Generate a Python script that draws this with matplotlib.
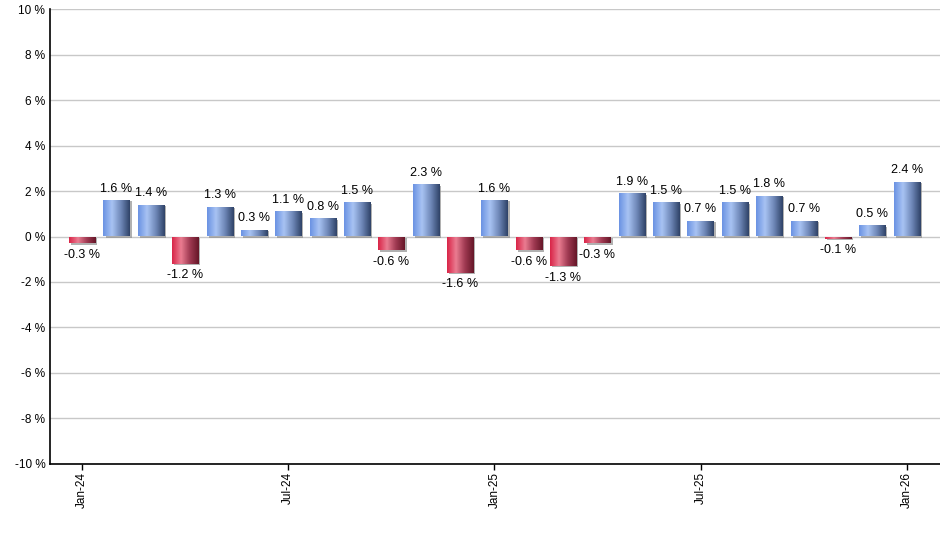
import matplotlib
matplotlib.use("Agg")
import matplotlib.pyplot as plt
import numpy as np
from matplotlib.colors import LinearSegmentedColormap
from matplotlib import patheffects

months = ["Jan-24", "Feb-24", "Mar-24", "Apr-24", "May-24", "Jun-24", "Jul-24",
          "Aug-24", "Sep-24", "Oct-24", "Nov-24", "Dec-24", "Jan-25", "Feb-25",
          "Mar-25", "Apr-25", "May-25", "Jun-25", "Jul-25", "Aug-25", "Sep-25",
          "Oct-25", "Nov-25", "Dec-25", "Jan-26"]
returns = [-0.3, 1.6, 1.4, -1.2, 1.3, 0.3, 1.1, 0.8, 1.5, -0.6, 2.3, -1.6, 1.6,
           -0.6, -1.3, -0.3, 1.9, 1.5, 0.7, 1.5, 1.8, 0.7, -0.1, 0.5, 2.4]
tick_months = ["Jan-24", "Jul-24", "Jan-25", "Jul-25", "Jan-26"]
y_ticks = [-10, -8, -6, -4, -2, 0, 2, 4, 6, 8, 10]

plt.rcParams["font.family"] = ["Liberation Sans", "DejaVu Sans"]

blue_cmap = LinearSegmentedColormap.from_list(
    "blue", ["#6b93e3", "#a8c3f3", "#6f88b8", "#2f4368"])
red_cmap = LinearSegmentedColormap.from_list(
    "red", ["#d92548", "#ea7c91", "#a03a52", "#661628"])

fig = plt.figure(figsize=(9.4, 5.5), dpi=100)
ax = fig.add_axes([0.0527, 0.1564, 0.9473, 0.8272])

x = np.arange(len(months))
width = 0.76
bars = ax.bar(x, returns, width, color="none", edgecolor="none", zorder=3,
              path_effects=[patheffects.SimplePatchShadow(
                  offset=(1.5, -1), shadow_rgbFace="#909090", alpha=0.7)])

grad = np.linspace(0, 1, 64).reshape(1, -1)
for bar, val in zip(bars, returns):
    x0 = bar.get_x()
    cmap = blue_cmap if val >= 0 else red_cmap
    im = ax.imshow(grad, cmap=cmap, aspect="auto", interpolation="bilinear",
                   extent=(x0, x0 + width, min(0, val), max(0, val)), zorder=4)
    im.set_clip_path(bar)

for xi, val in zip(x, returns):
    if val >= 0:
        ax.annotate(f"{val:.1f} %", (xi, val), xytext=(0, 4), textcoords="offset points",
                    ha="center", va="bottom", fontsize=9, zorder=5)
    else:
        ax.annotate(f"{val:.1f} %", (xi, val), xytext=(0, -4), textcoords="offset points",
                    ha="center", va="top", fontsize=9, zorder=5)

ax.set_xlim(-0.95, len(months) - 0.03)
ax.set_ylim(-10, 10)
ax.set_yticks(y_ticks)
ax.set_yticklabels([f"{t} %" for t in y_ticks], fontsize=8.5)
ax.set_xticks([months.index(m) for m in tick_months])
ax.set_xticklabels(tick_months, rotation=90, fontsize=8.5)
ax.tick_params(axis="y", length=0, pad=3)
ax.tick_params(axis="x", length=4, width=1, pad=2)

ax.grid(axis="y", color="#c8c8c8", linewidth=1, zorder=0)
ax.set_axisbelow(True)
for side in ["top", "right"]:
    ax.spines[side].set_visible(False)
for side in ["left", "bottom"]:
    ax.spines[side].set_linewidth(1.2)
    ax.spines[side].set_zorder(6)

fig.savefig("out.png", dpi=100)
